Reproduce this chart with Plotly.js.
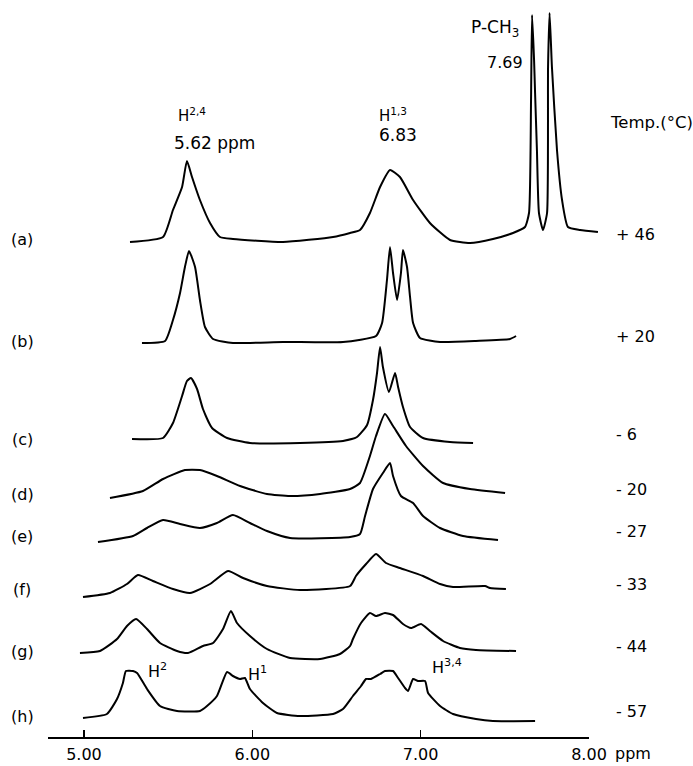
<!DOCTYPE html>
<html>
<head>
<meta charset="utf-8">
<script src="https://cdn.plot.ly/plotly-3.0.1.min.js"></script>
<style>
  html, body { margin: 0; padding: 0; background: #fff; }
  #plot { width: 693px; height: 766px; }
</style>
</head>
<body>
<div id="plot"></div>
<script>
// spectrum labels and temperatures, top to bottom
var spectrumLabels = ['(a)', '(b)', '(c)', '(d)', '(e)', '(f)', '(g)', '(h)'];
var temps = ['+ 46', '+ 20', '- 6', '- 20', '- 27', '- 33', '- 44', '- 57'];

// chemical shift (ppm) and intensity
var ppmA = [5.273,5.469,5.528,5.582,5.611,5.641,5.688,5.748,5.807,5.884,6.181,6.478,6.579,6.638,6.697,6.757,6.816,6.875,6.953,7.053,7.172,7.291,7.427,7.546,7.617,7.641,7.653,7.659,7.671,7.677,7.688,7.700,7.724,7.748,7.754,7.763,7.777,7.807,7.837,7.872,7.944,8.050];
var intA = [-2,3,30,53,79,63,40,17,3,1,-2,3,7,10,27,53,70,63,40,17,0,-3,1,7,13,27,140,225,180,147,90,27,10,27,173,227,173,90,40,13,10,8];

var ppmB = [5.344,5.481,5.528,5.570,5.599,5.623,5.659,5.688,5.718,5.766,5.884,6.181,6.537,6.733,6.769,6.798,6.816,6.834,6.858,6.881,6.893,6.917,6.935,6.953,6.994,7.113,7.326,7.528,7.564];
var intB = [-1,1,22,49,75,91,75,42,15,3,-1,0,0,6,19,62,95,69,42,69,92,75,45,19,4,0,1,3,6];

var ppmC = [5.285,5.469,5.528,5.582,5.611,5.635,5.671,5.706,5.760,5.849,5.985,6.282,6.537,6.620,6.680,6.715,6.739,6.757,6.774,6.810,6.846,6.864,6.893,6.935,7.012,7.172,7.309];
var intC = [1,2,17,44,59,62,51,31,12,2,-3,-3,-1,3,15,40,67,93,73,48,67,53,33,13,2,-2,-3];

var ppmD = [5.154,5.350,5.469,5.599,5.688,5.789,5.926,6.086,6.223,6.401,6.579,6.638,6.697,6.733,6.786,6.834,6.911,7.012,7.131,7.291,7.499];
var intD = [-3,4,16,25,25,19,9,1,-1,1,6,12,39,59,81,69,49,29,12,6,2];

var ppmE = [5.083,5.291,5.374,5.469,5.570,5.688,5.789,5.884,5.985,6.086,6.223,6.579,6.638,6.668,6.715,6.774,6.816,6.834,6.881,6.953,7.012,7.113,7.249,7.457];
var intE = [-5,1,9,17,13,9,14,22,14,6,-1,0,3,21,48,64,74,61,41,34,21,9,1,-3];

var ppmF = [4.994,5.154,5.255,5.320,5.409,5.528,5.629,5.748,5.855,5.944,6.086,6.282,6.579,6.614,6.674,6.733,6.792,6.875,7.012,7.113,7.190,7.380,7.409,7.504];
var intF = [-7,-3,6,15,9,1,-3,6,19,12,4,0,4,14,26,36,27,22,14,6,3,4,2,1];

var ppmG = [4.976,5.095,5.196,5.255,5.309,5.374,5.451,5.552,5.617,5.706,5.766,5.825,5.872,5.908,5.985,6.086,6.223,6.401,6.519,6.579,6.596,6.644,6.697,6.733,6.786,6.834,6.893,6.941,7.000,7.053,7.131,7.231,7.326,7.564];
var intG = [-1,1,13,26,33,23,9,1,-1,6,9,23,41,29,16,3,-6,-7,-2,6,13,29,39,36,39,37,28,24,28,21,11,4,2,1];

var ppmH = [4.994,5.136,5.196,5.231,5.249,5.291,5.315,5.374,5.451,5.552,5.688,5.730,5.789,5.849,5.884,5.926,5.955,5.985,6.062,6.145,6.282,6.478,6.537,6.596,6.644,6.674,6.703,6.757,6.786,6.834,6.864,6.905,6.923,6.953,6.982,7.024,7.042,7.113,7.190,7.326,7.427,7.677];
var intH = [-1,3,18,34,46,46,44,28,11,6,6,11,21,45,41,38,39,28,14,4,1,3,8,21,31,38,38,43,46,46,39,29,26,38,36,36,24,11,3,-2,-4,-4];

var ppmAll = [ppmA, ppmB, ppmC, ppmD, ppmE, ppmF, ppmG, ppmH];
var intAll = [intA, intB, intC, intD, intE, intF, intG, intH];

// vertical stacking of the spectra
var stackOffset = [497, 395, 297, 242, 200, 147, 85, 20];

var font = 'DejaVu Sans, Arial, sans-serif';
var data = [];
for (var i = 0; i < ppmAll.length; i++) {
    data.push({
        x: ppmAll[i],
        y: intAll[i].map(function (v) { return v + stackOffset[i]; }),
        type: 'scatter',
        mode: 'lines',
        line: {color: '#000', width: 2, shape: 'spline', smoothing: 0.5},
        hoverinfo: 'skip',
        showlegend: false
    });
}
// empty trace so the ppm axis gets drawn
data.push({x: [], y: [], xaxis: 'x2', yaxis: 'y', type: 'scatter', showlegend: false});

var ann = [];
function txt(text, px, y, size, anchor, yref) {
    ann.push({
        text: text, xref: 'paper', yref: yref || 'y', x: px / 693, y: y,
        xanchor: anchor || 'left', yanchor: 'middle', showarrow: false,
        font: {family: font, size: size, color: '#000'}
    });
}
for (var k = 0; k < spectrumLabels.length; k++) {
    txt(spectrumLabels[k], 22, stackOffset[k] + 1, 16, 'center');
    txt(temps[k], 614, stackOffset[k] + 6, 16, 'left');
}
txt('H<sup>2,4</sup>', 176, 622, 15);
txt('5.62 ppm', 172, 594, 17);
txt('H<sup>1,3</sup>', 377, 622, 15);
txt('6.83', 377, 602, 17);
txt('P-CH<sub>3</sub>', 469, 709, 17);
txt('7.69', 485, 675, 16);
txt('Temp.(°C)', 608, 615, 16.5);
txt('H<sup>2</sup>', 146, 67, 16);
txt('H<sup>1</sup>', 246, 64, 16);
txt('H<sup>3,4</sup>', 430, 71, 16);
txt('ppm', 613, -7 / 747, 16, 'left', 'paper');

var layout = {
    width: 693,
    height: 766,
    margin: {l: 0, r: 0, t: 0, b: 19},
    paper_bgcolor: '#fff',
    plot_bgcolor: 'rgba(0,0,0,0)',
    showlegend: false,
    xaxis: {range: [4.5015, 8.6142], visible: false, fixedrange: true},
    xaxis2: {
        range: [4.7864, 8.0],
        domain: [48 / 693, 589 / 693],
        anchor: 'free',
        position: 10 / 747,
        showline: true, linecolor: '#000', linewidth: 1.5,
        ticks: 'inside', ticklen: 7, tickwidth: 1.5, tickcolor: '#000',
        tickvals: [5, 6, 7, 8],
        ticktext: ['5.00', '6.00', '7.00', '8.00'],
        tickfont: {family: font, size: 16, color: '#000'},
        ticklabelstandoff: 2,
        showgrid: false, zeroline: false
    },
    yaxis: {range: [-10, 737], visible: false, fixedrange: true},
    annotations: ann
};

Plotly.newPlot('plot', data, layout, {staticPlot: true});
</script>
</body>
</html>
